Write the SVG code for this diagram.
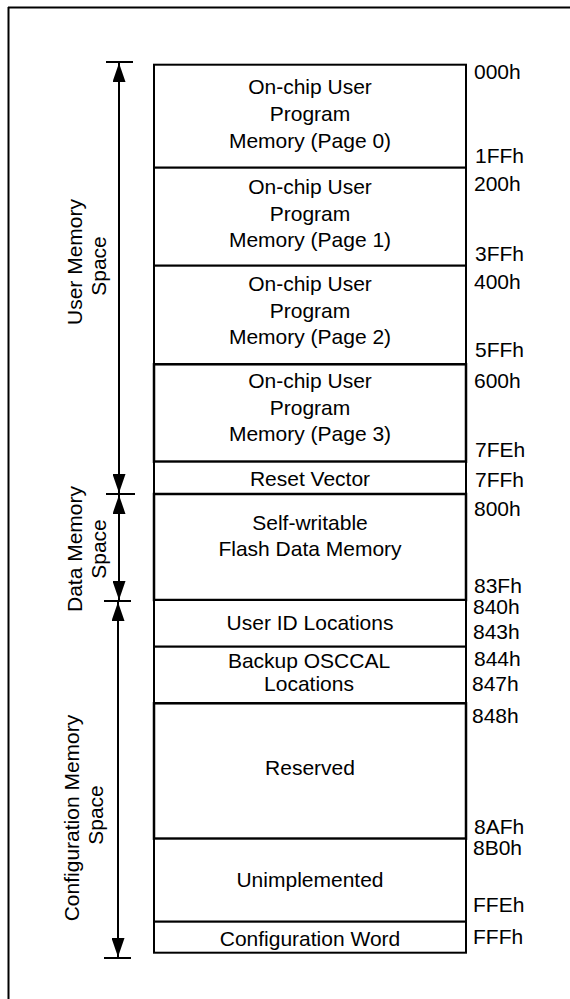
<svg xmlns="http://www.w3.org/2000/svg" width="570" height="999" viewBox="0 0 570 999">
<style>
.box{fill:#fff;stroke:#000;stroke-width:2}
.t{font-family:"Liberation Sans",Arial,sans-serif;font-size:21px;fill:#000;text-anchor:middle}
.a{font-family:"Liberation Sans",Arial,sans-serif;font-size:21px;fill:#000}
.ln{stroke:#000;stroke-width:2;fill:none}
.arr{stroke:#000;stroke-width:2;fill:none;marker-start:url(#ah);marker-end:url(#ah)}
</style>
<defs>
<marker id="ah" markerUnits="userSpaceOnUse" markerWidth="20" markerHeight="13" refX="19" refY="6.5" orient="auto-start-reverse">
<path d="M0,0 L19,6.5 L0,13 z" fill="#000"/>
</marker>
</defs>
<rect width="570" height="999" fill="#fff"/>
<g id="frame">
<line class="ln" x1="8" y1="7.5" x2="570" y2="7.5"/>
<line class="ln" x1="8.5" y1="7" x2="8.5" y2="999"/>
</g>
<g id="connectors">
<line class="ln" x1="106" y1="62" x2="133" y2="62"/>
<line class="ln" x1="106" y1="494" x2="135" y2="494"/>
<line class="ln" x1="104" y1="601" x2="131" y2="601"/>
<line class="ln" x1="104" y1="958" x2="131" y2="958"/>
<line class="arr" x1="119" y1="63" x2="119" y2="493"/>
<line class="arr" x1="119" y1="495" x2="119" y2="600"/>
<line class="arr" x1="118" y1="602" x2="118" y2="957"/>
</g>
<g id="space-labels">
<text class="t" transform="translate(82,262) rotate(-90)">User Memory</text>
<text class="t" transform="translate(106,266) rotate(-90)">Space</text>
<text class="t" transform="translate(82,549) rotate(-90)">Data Memory</text>
<text class="t" transform="translate(106,549) rotate(-90)">Space</text>
<text class="t" transform="translate(79,818) rotate(-90)">Configuration Memory</text>
<text class="t" transform="translate(103,815) rotate(-90)">Space</text>
</g>
<g id="page0">
<rect class="box" x="154" y="64.7" width="312" height="103"/>
<text class="t" x="310" y="94">On-chip User</text>
<text class="t" x="310" y="120.5">Program</text>
<text class="t" x="310" y="147.5">Memory (Page 0)</text>
</g>
<g id="page1">
<rect class="box" x="154" y="167.7" width="312" height="98"/>
<text class="t" x="310" y="194">On-chip User</text>
<text class="t" x="310" y="220.5">Program</text>
<text class="t" x="310" y="247">Memory (Page 1)</text>
</g>
<g id="page2">
<rect class="box" x="154" y="265.7" width="312" height="98.6"/>
<text class="t" x="310" y="291">On-chip User</text>
<text class="t" x="310" y="317.5">Program</text>
<text class="t" x="310" y="344">Memory (Page 2)</text>
</g>
<g id="page3">
<rect class="box" x="154" y="364.3" width="312" height="97.4" style="stroke-width:2.5"/>
<text class="t" x="310" y="388">On-chip User</text>
<text class="t" x="310" y="414.5">Program</text>
<text class="t" x="310" y="441">Memory (Page 3)</text>
</g>
<g id="reset-vector">
<rect class="box" x="154" y="461.7" width="312" height="32.3"/>
<text class="t" x="310" y="486">Reset Vector</text>
</g>
<g id="flash-data">
<rect class="box" x="154" y="494" width="312" height="106" style="stroke-width:2.5"/>
<text class="t" x="310" y="530">Self-writable</text>
<text class="t" x="310" y="556">Flash Data Memory</text>
</g>
<g id="user-id">
<rect class="box" x="154" y="600" width="312" height="46.7"/>
<text class="t" x="310" y="630">User ID Locations</text>
</g>
<g id="backup-osccal">
<rect class="box" x="154" y="646.7" width="312" height="56.6"/>
<text class="t" x="309" y="667.5">Backup OSCCAL</text>
<text class="t" x="309" y="691">Locations</text>
</g>
<g id="reserved">
<rect class="box" x="154" y="703.3" width="312" height="135.4" style="stroke-width:2.5"/>
<text class="t" x="310" y="775">Reserved</text>
</g>
<g id="unimplemented">
<rect class="box" x="154" y="838.7" width="312" height="83"/>
<text class="t" x="310" y="887">Unimplemented</text>
</g>
<g id="config-word">
<rect class="box" x="154" y="921.7" width="312" height="31"/>
<text class="t" x="310" y="946">Configuration Word</text>
</g>
<g id="addresses">
<text class="a" x="474" y="78.5">000h</text>
<text class="a" x="475" y="162.5">1FFh</text>
<text class="a" x="474" y="191">200h</text>
<text class="a" x="475" y="261">3FFh</text>
<text class="a" x="474" y="289">400h</text>
<text class="a" x="475" y="357">5FFh</text>
<text class="a" x="474" y="387.5">600h</text>
<text class="a" x="475" y="457">7FEh</text>
<text class="a" x="475" y="486.7">7FFh</text>
<text class="a" x="474" y="515.5">800h</text>
<text class="a" x="474" y="592.5">83Fh</text>
<text class="a" x="473" y="614">840h</text>
<text class="a" x="473" y="638.5">843h</text>
<text class="a" x="474" y="665.5">844h</text>
<text class="a" x="472" y="690.5">847h</text>
<text class="a" x="472" y="722.5">848h</text>
<text class="a" x="474" y="833.5">8AFh</text>
<text class="a" x="473" y="854.5">8B0h</text>
<text class="a" x="473" y="911.5">FFEh</text>
<text class="a" x="473" y="943.5">FFFh</text>
</g>
</svg>
